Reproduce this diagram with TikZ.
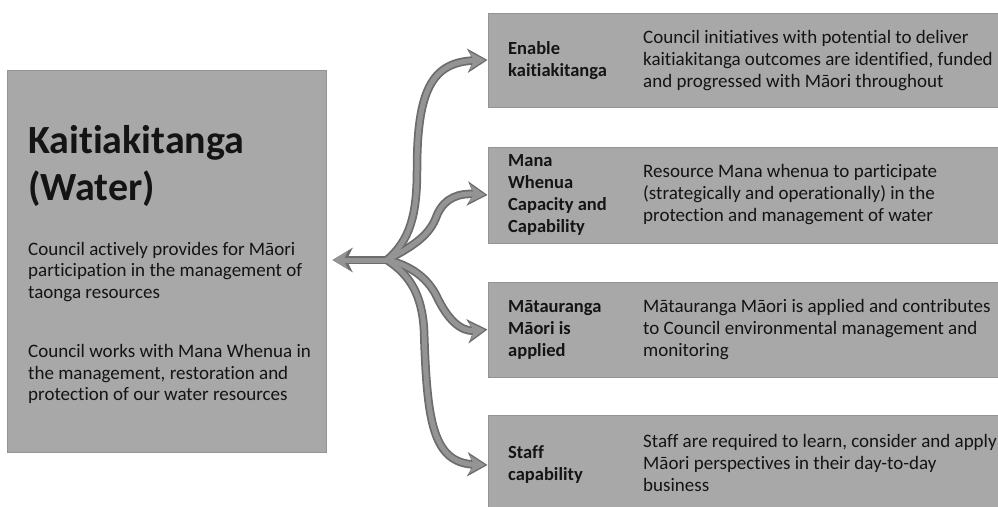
\documentclass[tikz,border=0pt]{standalone}
\usepackage{fontspec}
\setmainfont[RawFeature={-liga;-clig;-calt}]{Carlito}
\usetikzlibrary{arrows.meta}
\definecolor{boxgray}{RGB}{168,168,168}
\definecolor{boxedge}{RGB}{148,148,148}
\definecolor{arrowfill}{RGB}{148,148,148}
\definecolor{arrowedge}{RGB}{108,108,108}
\definecolor{ink}{RGB}{20,20,20}
\begin{document}
\begin{tikzpicture}[x=1pt,y=-1pt,
  panel/.style={fill=boxgray,draw=boxedge,line width=1pt,inner sep=0pt},
  titletext/.style={text=ink,align=left,inner sep=0pt,font=\bfseries\fontsize{40}{47}\selectfont},
  bodytext/.style={text=ink,align=left,inner sep=0pt,font=\fontsize{19}{21.5}\selectfont},
  labeltext/.style={text=ink,align=left,inner sep=0pt,font=\bfseries\fontsize{18.5}{22}\selectfont},
  desctext/.style={text=ink,align=left,inner sep=0pt,font=\fontsize{19}{22}\selectfont},
  flowout/.style={draw=arrowedge,line width=8.5pt,-{Stealth[length=20pt,width=24pt,inset=6pt,fill=arrowedge]}},
  flowin/.style={draw=arrowfill,line width=5pt,shorten >=2.5pt,-{Stealth[length=15.5pt,width=18pt,inset=4.5pt,fill=arrowfill]}}]
\useasboundingbox (0,0) rectangle (998,506);

% main panel
\node[panel,minimum width=319pt,minimum height=382pt] (main) at (166.5,261) {};
\node[titletext,anchor=west] (title) at (28,166) {Kaitiakitanga\\(Water)};
\node[bodytext,anchor=west] (p1) at (28,272) {Council actively provides for Māori\\participation in the management of\\taonga resources};
\node[bodytext,anchor=west] (p2) at (28,374) {Council works with Mana Whenua in\\the management, restoration and\\protection of our water resources};

% outcome panels
\node[panel,minimum width=517pt,minimum height=94pt] (b1) at (746.5,60) {};
\node[panel,minimum width=517pt,minimum height=96pt] (b2) at (746.5,195) {};
\node[panel,minimum width=517pt,minimum height=95pt] (b3) at (746.5,329.5) {};
\node[panel,minimum width=517pt,minimum height=100pt] (b4) at (746.5,465) {};

\node[labeltext,anchor=west] (l1) at (508,61) {Enable\\kaitiakitanga};
\node[desctext,anchor=west] (d1) at (643,61) {Council initiatives with potential to deliver\\kaitiakitanga outcomes are identified, funded\\and progressed with Māori throughout};
\node[labeltext,anchor=west] (l2) at (508,195) {Mana\\Whenua\\Capacity and\\Capability};
\node[desctext,anchor=west] (d2) at (643,195) {Resource Mana whenua to participate\\(strategically and operationally) in the\\protection and management of water};
\node[labeltext,anchor=west] (l3) at (508,330) {Mātauranga\\Māori is\\applied};
\node[desctext,anchor=west] (d3) at (643,330) {Mātauranga Māori is applied and contributes\\to Council environmental management and\\monitoring};
\node[labeltext,anchor=west] (l4) at (508,465) {Staff\\capability};
\node[desctext,anchor=west] (d4) at (643,463) {Staff are required to learn, consider and apply\\Māori perspectives in their day-to-day\\business};

% branching arrows: dark outline pass, then lighter core pass
\coordinate (hub) at (387,260);
\foreach \lay in {flowout,flowin}{
  \draw[\lay,shorten >=6pt] (hub) -- (main.east |- hub);
  \draw[\lay] (hub) .. controls (410,240) and (417,215) .. (417,170)
                    .. controls (417,90) and (432,62) .. (b1.west);
  \draw[\lay] (hub) .. controls (415,245) and (430,235) .. (437,215)
                    .. controls (445,197) and (460,193) .. (b2.west);
  \draw[\lay] (hub) .. controls (410,265) and (428,278) .. (437,297)
                    .. controls (447,318) and (460,332) .. (b3.west);
  \draw[\lay] (hub) .. controls (410,275) and (422,295) .. (424,330)
                    .. controls (427,420) and (432,463) .. (b4.west);
}
\end{tikzpicture}
\end{document}
